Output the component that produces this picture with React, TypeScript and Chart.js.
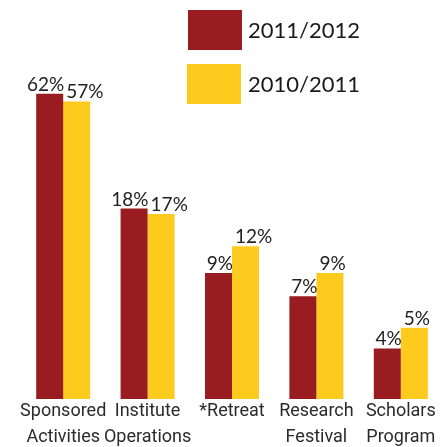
import React, { useEffect, useRef } from "react";
import { Chart, registerables } from "chart.js";

Chart.register(...registerables);

const categories: (string | string[])[] = [
  ["Sponsored", "Activities"],
  ["Institute", "Operations"],
  "*Retreat",
  ["Research", "Festival"],
  ["Scholars", "Program"],
];
const seriesNames = ["2011/2012", "2010/2011"];
const values20112012 = [62, 18, 9, 7, 4];
const values20102011 = [57, 17, 12, 9, 5];
const seriesColors = ["#991c20", "#fdca1e"];

const labelFont = "Lato, 'Noto Sans', sans-serif";
const axisFont = "Roboto, 'Noto Sans', sans-serif";

const valueLabelPlugin = {
  id: "valueLabels",
  afterDatasetsDraw(chart: any) {
    const ctx = chart.ctx;
    ctx.save();
    ctx.font = `19px ${labelFont}`;
    ctx.fillStyle = "#222222";
    ctx.textBaseline = "alphabetic";
    chart.data.datasets.forEach((ds: any, di: number) => {
      const meta = chart.getDatasetMeta(di);
      meta.data.forEach((bar: any, i: number) => {
        const v = ds.data[i];
        const half = bar.width / 2;
        if (di === 0) {
          ctx.textAlign = "right";
          ctx.fillText(v + "%", bar.x + half + 1, bar.y - 3);
        } else {
          ctx.textAlign = "left";
          ctx.fillText(v + "%", bar.x - half + 3, bar.y - 3);
        }
      });
    });
    ctx.restore();
  },
};

const legendPlugin = {
  id: "boxLegend",
  afterDraw(chart: any) {
    const ctx = chart.ctx;
    ctx.save();
    ctx.font = `22px ${labelFont}`;
    ctx.textBaseline = "middle";
    ctx.textAlign = "left";
    chart.data.datasets.forEach((ds: any, di: number) => {
      const top = 10 + di * 54;
      const left = 188 - di;
      ctx.fillStyle = ds.backgroundColor;
      ctx.fillRect(left, top, 54, 40);
      ctx.fillStyle = "#1a1a1a";
      ctx.fillText(ds.label, 248, top + 21);
    });
    ctx.restore();
  },
};

export default function App() {
  const canvasRef = useRef<HTMLCanvasElement | null>(null);

  useEffect(() => {
    document.body.style.margin = "0";
    const canvas = canvasRef.current;
    if (!canvas) return;
    const chart = new Chart(canvas, {
      type: "bar",
      data: {
        labels: categories,
        datasets: [
          {
            label: seriesNames[0],
            data: values20112012,
            backgroundColor: seriesColors[0],
            borderWidth: 0,
          },
          {
            label: seriesNames[1],
            data: values20102011,
            backgroundColor: seriesColors[1],
            borderWidth: 0,
          },
        ],
      },
      options: {
        responsive: false,
        animation: false,
        devicePixelRatio: 1,
        layout: { padding: { left: 21, right: 2, top: 30, bottom: 0 } },
        datasets: {
          bar: { categoryPercentage: 0.64, barPercentage: 1.0 },
        },
        plugins: {
          legend: { display: false },
          tooltip: { enabled: false },
        },
        scales: {
          x: {
            grid: { display: false, drawTicks: false },
            border: { display: false },
            ticks: {
              autoSkip: false,
              maxRotation: 0,
              minRotation: 0,
              padding: 0,
              color: "#2b2b2b",
              font: { family: axisFont, size: 18, lineHeight: 1.44 },
            },
            afterFit(scale: any) {
              scale.height = 48;
            },
          },
          y: {
            type: "logarithmic",
            display: false,
            min: 2.32,
            max: 123,
          },
        },
      },
      plugins: [valueLabelPlugin, legendPlugin],
    });
    return () => chart.destroy();
  }, []);

  return (
    <div style={{ width: 445, height: 447 }}>
      <canvas ref={canvasRef} width={445} height={447} />
    </div>
  );
}
